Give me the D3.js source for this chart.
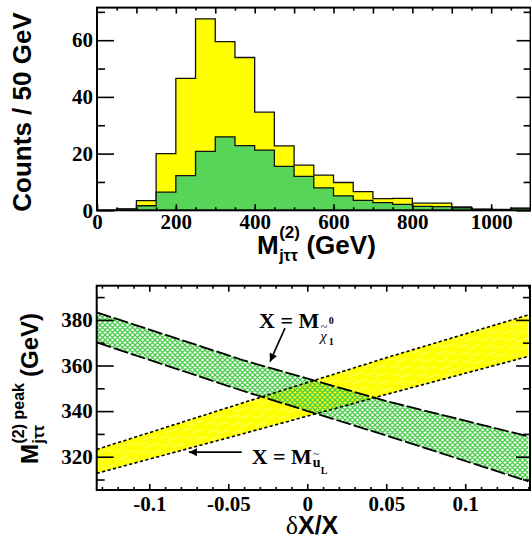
<!DOCTYPE html>
<html><head><meta charset="utf-8">
<script src="https://cdn.jsdelivr.net/npm/d3@7"></script>
<style>body{margin:0;background:#fff}svg{display:block}</style>
</head><body>
<svg id="c" width="531" height="552"></svg>
<script>
// ---------- DATA ----------
// Top: histogram of M_jtautau^(2), 50 GeV bins
const binStarts = [0,50,100,150,200,250,300,350,400,450,500,550,600,650,700,750,800,850,900,950,1000,1050];
const totalCounts = [0,0.5,3.4,20.0,46.5,67.5,59.5,53.9,34.6,22.7,15.9,12.4,9.8,6.6,4.1,4.2,2.5,2.5,1.2,0.4,0.3,0.8];
const greenCounts = [0,0.4,1.6,6.4,12.2,20.8,25.9,22.8,21.2,15.5,12.0,7.9,5.1,3.5,2.7,2.1,1.4,1.3,0.9,0.35,0.25,0.7];
const histXTicks = [0,200,400,600,800,1000];
const histYTicks = [0,20,40,60];

// Bottom: peak position vs deltaX/X
const dxVals   = [-0.1333,-0.04,0.05,0.14];
const chiUpper = [383.3,362.2,344.4,328.9];
const chiLower = [370.1,348.7,329.3,309.2];
const uUpper   = [323.2,343.8,363.4,382.2];
const uLower   = [312.7,330.2,347.3,364.0];
const peakXTicks = [-0.1,-0.05,0,0.05,0.1];
const peakXTickLabels = ["-0.1","-0.05","0","0.05","0.1"];
const peakYTicks = [320,340,360,380];

// ---------- DRAW ----------
const svg = d3.select("#c");
const defs = svg.append("defs");
const serif = "'Liberation Serif','Times New Roman',serif";
const sans = "'Liberation Sans',Arial,Helvetica,sans-serif";

// patterns
const hp = defs.append("pattern").attr("id","hatch").attr("patternUnits","userSpaceOnUse")
  .attr("width",5).attr("height",5);
hp.append("path").attr("d","M0,0L5,5M0,5L5,0M-1,1L1,-1M4,6L6,4M-1,4L1,6M4,-1L6,1")
  .attr("stroke","#46cc46").attr("stroke-width",1.25).attr("fill","none");
const yp = defs.append("pattern").attr("id","ytex").attr("patternUnits","userSpaceOnUse")
  .attr("width",24).attr("height",8).attr("patternTransform","rotate(-17)");
yp.append("rect").attr("width",24).attr("height",8).attr("fill","#ffff00");
yp.append("path").attr("d","M0,2L12,2M8,6L22,6").attr("stroke","#ffff90").attr("stroke-width",0.9);

const marker = defs.append("marker").attr("id","arr").attr("viewBox","0 0 10 10")
  .attr("refX",10).attr("refY",5).attr("markerWidth",9).attr("markerHeight",8)
  .attr("markerUnits","userSpaceOnUse").attr("orient","auto");
marker.append("path").attr("d","M0,0L10,5L0,10Z").attr("fill","#000");

function styleAxis(g, size){
  g.select(".domain").remove();
  g.selectAll(".tick line").attr("stroke","#000").attr("stroke-width",1.6);
  g.selectAll(".tick text").attr("font-family",serif).attr("font-weight","bold")
    .attr("font-size",size).attr("fill","#000");
}

// ===== TOP PANEL =====
const xH = d3.scaleLinear().domain([0,1100]).range([97,530.6]);
const yH = d3.scaleLinear().domain([0,71.5]).range([210.3,7.6]);
defs.append("clipPath").attr("id","clipTop").append("rect")
  .attr("x",xH(0)).attr("y",yH(71.5)).attr("width",xH(1100)-xH(0)).attr("height",yH(0)-yH(71.5));

function stepPts(vals){
  return binStarts.map((b,i)=>[b,vals[i]]).concat([[1100,vals[vals.length-1]]]);
}
const hArea = d3.area().x(d=>xH(d[0])).y0(yH(0)).y1(d=>yH(d[1])).curve(d3.curveStepAfter);
const hLine = d3.line().x(d=>xH(d[0])).y(d=>yH(d[1])).curve(d3.curveStepAfter);
const gh = svg.append("g").attr("clip-path","url(#clipTop)");
gh.append("path").attr("d",hArea(stepPts(totalCounts))).attr("fill","#ffff00");
gh.append("path").attr("d",hLine(stepPts(totalCounts))).attr("fill","none").attr("stroke","#111").attr("stroke-width",1.3);
gh.append("path").attr("d",hArea(stepPts(greenCounts))).attr("fill","#58d558");
gh.append("path").attr("d",hLine(stepPts(greenCounts))).attr("fill","none").attr("stroke","#111").attr("stroke-width",1.3);

// axes top panel
const TF = "21px";
styleAxis(svg.append("g").attr("transform",`translate(${xH(0)},0)`)
  .call(d3.axisLeft(yH).tickValues(histYTicks).tickSize(-17).tickPadding(4).tickFormat(d3.format("d"))),TF);
styleAxis(svg.append("g").attr("transform",`translate(${xH(0)},0)`)
  .call(d3.axisLeft(yH).tickValues(d3.range(10,71,20)).tickSize(-8).tickFormat("")),TF);
styleAxis(svg.append("g").attr("transform",`translate(${xH(1100)},0)`)
  .call(d3.axisRight(yH).tickValues(histYTicks).tickSize(-14).tickFormat("")),TF);
styleAxis(svg.append("g").attr("transform",`translate(${xH(1100)},0)`)
  .call(d3.axisRight(yH).tickValues(d3.range(10,71,20)).tickSize(-7).tickFormat("")),TF);
styleAxis(svg.append("g").attr("transform",`translate(0,${yH(0)})`)
  .call(d3.axisBottom(xH).tickValues(histXTicks).tickSize(-6).tickPadding(4).tickFormat(d3.format("d"))),TF);
styleAxis(svg.append("g").attr("transform",`translate(0,${yH(0)})`)
  .call(d3.axisBottom(xH).tickValues(d3.range(50,1100,50)).tickSize(-3).tickFormat("")),TF);
styleAxis(svg.append("g").attr("transform",`translate(0,${yH(71.5)})`)
  .call(d3.axisTop(xH).tickValues(d3.range(100,1100,100)).tickSize(-6).tickFormat("")),TF);
styleAxis(svg.append("g").attr("transform",`translate(0,${yH(71.5)})`)
  .call(d3.axisTop(xH).tickValues(d3.range(50,1100,100)).tickSize(-3).tickFormat("")),TF);
svg.append("rect").attr("x",xH(0)).attr("y",yH(71.5)).attr("width",xH(1100)-xH(0)).attr("height",yH(0)-yH(71.5))
  .attr("fill","none").attr("stroke","#000").attr("stroke-width",2);

// top titles
svg.append("text").attr("transform","translate(31,112) rotate(-90)").attr("text-anchor","middle")
  .attr("font-family",sans).attr("font-weight","bold").attr("font-size","26px").text("Counts / 50 GeV");

function massLabel(g, fs, supTxt, supFs, subFs){
  const m = g.append("text").attr("x",0).attr("y",0).attr("font-family",sans).attr("font-weight","bold").attr("font-size",fs+"px").text("M");
  const wM = m.node().getComputedTextLength();
  const sp = g.append("text").attr("x",wM+0.5).attr("y",-fs*0.6).attr("font-family",sans).attr("font-weight","bold").attr("font-size",supFs+"px").text(supTxt);
  const sb = g.append("text").attr("x",wM+0.5).attr("y",fs*0.26).attr("font-family",sans).attr("font-weight","bold").attr("font-size",subFs+"px").text("jττ");
  const w2 = Math.max(sp.node().getComputedTextLength(), sb.node().getComputedTextLength());
  g.append("text").attr("x",wM+0.5+w2+fs*0.25).attr("y",0).attr("font-family",sans).attr("font-weight","bold").attr("font-size",fs+"px").text("(GeV)");
}
massLabel(svg.append("g").attr("transform","translate(257,254)"), 26, "(2)", 17, 16);

// ===== BOTTOM PANEL =====
const xP = d3.scaleLinear().domain([-0.1333,0.141]).range([96.7,530]);
const yP = d3.scaleLinear().domain([305.4,395]).range([490,285.7]);
defs.append("clipPath").attr("id","clipBot").append("rect")
  .attr("x",xP(-0.1333)).attr("y",yP(395)).attr("width",xP(0.141)-xP(-0.1333)).attr("height",yP(305.4)-yP(395));

const band = d3.area().x(d=>xP(d.x)).y0(d=>yP(d.lo)).y1(d=>yP(d.hi));
const edge = d3.line().x(d=>xP(d[0])).y(d=>yP(d[1]));
const uBand = dxVals.map((x,i)=>({x,lo:uLower[i],hi:uUpper[i]}));
const cBand = dxVals.map((x,i)=>({x,lo:chiLower[i],hi:chiUpper[i]}));
const gb = svg.append("g").attr("clip-path","url(#clipBot)");
gb.append("path").attr("d",band(uBand)).attr("fill","url(#ytex)");
gb.append("path").attr("d",band(cBand)).attr("fill","url(#hatch)");
[uUpper,uLower].forEach(arr=>{
  gb.append("path").attr("d",edge(dxVals.map((x,i)=>[x,arr[i]]))).attr("fill","none")
    .attr("stroke","#000").attr("stroke-width",1.6).attr("stroke-dasharray","3.2,2.4");
});
[chiUpper,chiLower].forEach(arr=>{
  gb.append("path").attr("d",edge(dxVals.map((x,i)=>[x,arr[i]]))).attr("fill","none")
    .attr("stroke","#000").attr("stroke-width",1.8).attr("stroke-dasharray","15,3");
});

styleAxis(svg.append("g").attr("transform",`translate(${xP(-0.1333)},0)`)
  .call(d3.axisLeft(yP).tickValues(peakYTicks).tickSize(-17).tickPadding(4).tickFormat(d3.format("d"))),TF);
styleAxis(svg.append("g").attr("transform",`translate(${xP(-0.1333)},0)`)
  .call(d3.axisLeft(yP).tickValues([310,330,350,370,390]).tickSize(-8).tickFormat("")),TF);
styleAxis(svg.append("g").attr("transform",`translate(${xP(0.141)},0)`)
  .call(d3.axisRight(yP).tickValues(peakYTicks).tickSize(-14).tickFormat("")),TF);
styleAxis(svg.append("g").attr("transform",`translate(${xP(0.141)},0)`)
  .call(d3.axisRight(yP).tickValues([310,330,350,370,390]).tickSize(-7).tickFormat("")),TF);
styleAxis(svg.append("g").attr("transform",`translate(0,${yP(305.4)})`)
  .call(d3.axisBottom(xP).tickValues(peakXTicks).tickSize(-6).tickPadding(6).tickFormat((d,i)=>peakXTickLabels[i])),TF);
const minorX = d3.range(-13,15).map(i=>i/100).filter(v=>Math.abs(Math.round(v*20)-v*20)>1e-6);
styleAxis(svg.append("g").attr("transform",`translate(0,${yP(305.4)})`)
  .call(d3.axisBottom(xP).tickValues(minorX).tickSize(-3).tickFormat("")),TF);
styleAxis(svg.append("g").attr("transform",`translate(0,${yP(395)})`)
  .call(d3.axisTop(xP).tickValues(peakXTicks).tickSize(-6).tickFormat("")),TF);
styleAxis(svg.append("g").attr("transform",`translate(0,${yP(395)})`)
  .call(d3.axisTop(xP).tickValues(minorX).tickSize(-3).tickFormat("")),TF);
svg.append("rect").attr("x",xP(-0.1333)).attr("y",yP(395)).attr("width",xP(0.141)-xP(-0.1333)).attr("height",yP(305.4)-yP(395))
  .attr("fill","none").attr("stroke","#000").attr("stroke-width",2);

// bottom titles
massLabel(svg.append("g").attr("transform","translate(38,464) rotate(-90)"), 24, "(2) peak", 16, 16);
const dt = svg.append("text").attr("x",312).attr("y",534).attr("text-anchor","middle");
dt.append("tspan").attr("font-family",serif).attr("font-size","26px").text("δ");
dt.append("tspan").attr("font-family",sans).attr("font-weight","bold").attr("font-size","25px").text("X/X");

// annotations
function annot(px, py, sub){
  const g = svg.append("g").attr("transform",`translate(${xP(px)},${yP(py)})`);
  const t = g.append("text").attr("font-family",serif).attr("font-weight","bold").attr("font-size","22px").text("X = M");
  const w = t.node().getComputedTextLength();
  sub(g, w);
}
annot(-0.0305, 376.4, (g,w)=>{
  g.append("text").attr("x",w+1).attr("y",13).attr("font-family",serif).attr("font-style","italic").attr("font-size","15px").text("χ");
  g.append("text").attr("x",w+1.5).attr("y",3).attr("font-family",serif).attr("font-size","12px").text("~");
  g.append("text").attr("x",w+9.5).attr("y",-4).attr("font-family",serif).attr("font-weight","bold").attr("font-size","10px").text("0");
  g.append("text").attr("x",w+9.5).attr("y",17).attr("font-family",serif).attr("font-weight","bold").attr("font-size","10px").text("1");
});
annot(-0.0352, 316.8, (g,w)=>{
  g.append("text").attr("x",w+1).attr("y",3).attr("font-family",serif).attr("font-weight","bold").attr("font-size","14px").text("u");
  g.append("text").attr("x",w+1.5).attr("y",-7).attr("font-family",serif).attr("font-size","11px").text("~");
  g.append("text").attr("x",w+9).attr("y",10).attr("font-family",serif).attr("font-weight","bold").attr("font-size","10px").text("L");
});
// arrows
svg.append("line").attr("x1",xP(-0.0141)).attr("y1",yP(376.4)).attr("x2",xP(-0.0236)).attr("y2",yP(361.7))
  .attr("stroke","#000").attr("stroke-width",1.6).attr("marker-end","url(#arr)");
svg.append("line").attr("x1",xP(-0.0415)).attr("y1",yP(322.0)).attr("x2",xP(-0.0749)).attr("y2",yP(322.0))
  .attr("stroke","#000").attr("stroke-width",1.6).attr("marker-end","url(#arr)");
</script>
</body></html>
